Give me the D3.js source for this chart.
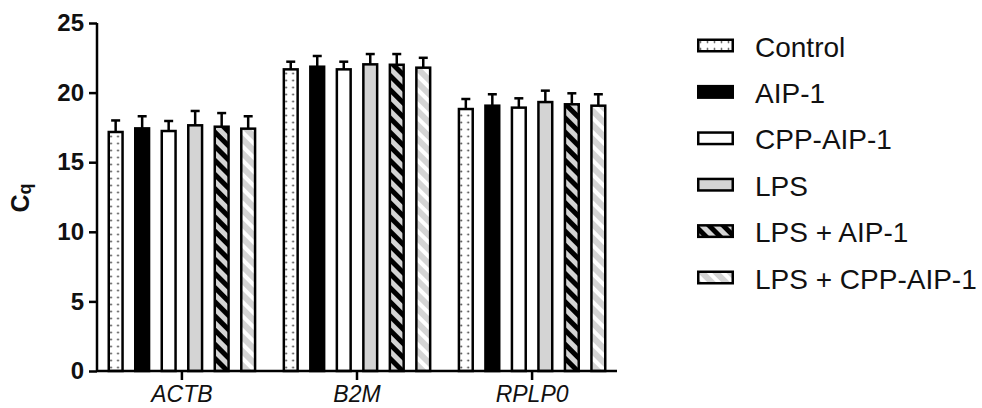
<!DOCTYPE html>
<html>
<head>
<meta charset="utf-8">
<script src="https://cdn.jsdelivr.net/npm/d3@7/dist/d3.min.js"></script>
<style>
  body { margin: 0; background: #fff; }
  text { font-family: "Liberation Sans", Arial, sans-serif; fill: #111; }
</style>
</head>
<body>
<svg id="chart" width="982" height="408"></svg>
<script>
const genes = ["ACTB", "B2M", "RPLP0"];
const groups = ["Control", "AIP-1", "CPP-AIP-1", "LPS", "LPS + AIP-1", "LPS + CPP-AIP-1"];
// mean Cq per gene, in group order
const means = {
  ACTB:  [17.17, 17.43, 17.24, 17.65, 17.55, 17.41],
  B2M:   [21.67, 21.86, 21.67, 22.03, 22.00, 21.79],
  RPLP0: [18.82, 19.06, 18.92, 19.32, 19.16, 19.06]
};
// upper error (SD)
const errs = {
  ACTB:  [0.83, 0.87, 0.72, 1.03, 0.98, 0.89],
  B2M:   [0.55, 0.77, 0.55, 0.74, 0.77, 0.71],
  RPLP0: [0.72, 0.82, 0.67, 0.82, 0.79, 0.82]
};
const yTicks = [0, 5, 10, 15, 20, 25];

const svg = d3.select("#chart");
const defs = svg.append("defs");

// fills
const dots = defs.append("pattern").attr("id", "dots")
  .attr("patternUnits", "userSpaceOnUse").attr("width", 7).attr("height", 7);
dots.append("rect").attr("width", 7).attr("height", 7).attr("fill", "#fff");
dots.append("circle").attr("cx", 3.5).attr("cy", 3.5).attr("r", 0.9).attr("fill", "#333");

function stripes(id, bg, fg, w) {
  const p = defs.append("pattern").attr("id", id)
    .attr("patternUnits", "userSpaceOnUse").attr("width", 10).attr("height", 10)
    .attr("patternTransform", "rotate(-45)");
  p.append("rect").attr("width", 10).attr("height", 10).attr("fill", bg);
  p.append("rect").attr("width", w).attr("height", 10).attr("fill", fg);
}
stripes("blackStripe", "#d4d4d4", "#000", 5);
stripes("whiteStripe", "#d4d4d4", "#fff", 4);

const fills = ["url(#dots)", "#000", "#fff", "#d4d4d4", "url(#blackStripe)", "url(#whiteStripe)"];

const y = d3.scaleLinear().domain([0, 25]).range([371, 23]);
const x0 = d3.scaleBand().domain(genes).range([97, 617]).paddingInner(0.15).paddingOuter(0.06);
const x1 = d3.scaleBand().domain(groups).range([0, x0.bandwidth()]).paddingInner(0.385);

// bars
const g = svg.append("g");
genes.forEach(gene => {
  const gg = g.append("g").attr("transform", `translate(${x0(gene)},0)`);
  const rows = groups.map((grp, i) => ({ grp, i, m: means[gene][i], e: errs[gene][i] }));
  gg.selectAll("line.err").data(rows).enter().append("line")
    .attr("x1", d => x1(d.grp) + x1.bandwidth() / 2)
    .attr("x2", d => x1(d.grp) + x1.bandwidth() / 2)
    .attr("y1", d => y(d.m)).attr("y2", d => y(d.m + d.e))
    .attr("stroke", "#000").attr("stroke-width", 2.5);
  gg.selectAll("line.cap").data(rows).enter().append("line")
    .attr("x1", d => x1(d.grp) + x1.bandwidth() / 2 - 4.5)
    .attr("x2", d => x1(d.grp) + x1.bandwidth() / 2 + 4.5)
    .attr("y1", d => y(d.m + d.e)).attr("y2", d => y(d.m + d.e))
    .attr("stroke", "#000").attr("stroke-width", 2.5);
  gg.selectAll("rect").data(rows).enter().append("rect")
    .attr("x", d => x1(d.grp) + 1.25)
    .attr("width", x1.bandwidth() - 2.5)
    .attr("y", d => y(d.m))
    .attr("height", d => y(0) - y(d.m))
    .attr("fill", d => fills[d.i])
    .attr("stroke", "#000").attr("stroke-width", 2.5);
});

// y axis
const yAxis = svg.append("g").attr("transform", "translate(97,0)")
  .call(d3.axisLeft(y).tickValues(yTicks).tickSize(8).tickPadding(5));
yAxis.select(".domain").attr("stroke-width", 2.5).attr("d", `M0,${y(25)}V${y(0)}`);
yAxis.selectAll(".tick line").attr("stroke-width", 2.5);
yAxis.selectAll(".tick text").style("font-size", "24px").style("font-weight", "bold")
  .style("font-family", "'Liberation Sans', Arial, sans-serif").attr("fill", "#111");

// x axis
const xAxis = svg.append("g").attr("transform", `translate(0,${y(0)})`)
  .call(d3.axisBottom(x0).tickSize(9).tickPadding(6));
xAxis.select(".domain").attr("stroke-width", 2.5).attr("d", `M97,0H617`);
xAxis.selectAll(".tick line").attr("stroke-width", 2.5);
xAxis.selectAll(".tick text").style("font-size", "23px").style("font-style", "italic")
  .style("font-family", "'Liberation Sans', Arial, sans-serif").attr("fill", "#111");

// y label
const yl = svg.append("text").attr("transform", "translate(29,198) rotate(-90)")
  .attr("text-anchor", "middle").style("font-size", "25px").style("font-weight", "bold");
yl.append("tspan").text("C");
yl.append("tspan").attr("dy", 2).style("font-size", "18px").text("q");

// legend
const leg = svg.append("g").attr("transform", "translate(697,45.5)");
const li = leg.selectAll("g").data(groups).enter().append("g")
  .attr("transform", (d, i) => `translate(0,${i * 46.4})`);
li.append("rect").attr("x", 1.25).attr("y", -5.75).attr("width", 34.5).attr("height", 11.5)
  .attr("fill", (d, i) => fills[i]).attr("stroke", "#000").attr("stroke-width", 2.5);
li.append("text").attr("x", 58).attr("y", 11).style("font-size", "28px").text(d => d);
</script>
</body>
</html>
